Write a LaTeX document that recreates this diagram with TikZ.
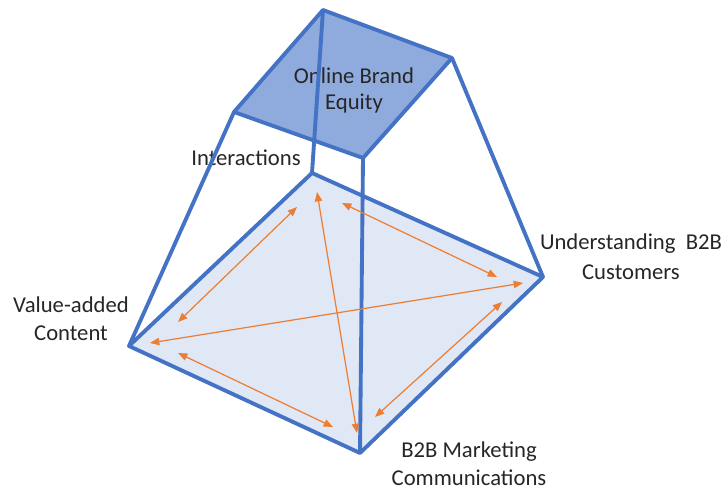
\documentclass[tikz,border=0pt]{standalone}
\usepackage{fontspec}
\setmainfont{Carlito}
\usetikzlibrary{arrows.meta}
\definecolor{edgeblue}{RGB}{68,114,196}
\definecolor{topfill}{RGB}{143,170,220}
\definecolor{basefill}{RGB}{224,231,245}
\definecolor{linkorange}{RGB}{237,125,49}
\tikzset{every picture/.style={line width=0.75pt}}

\begin{document}
\begin{tikzpicture}[x=0.75pt,y=0.75pt,yscale=-1,xscale=1,
  face/.style={draw=edgeblue,line width=2.9pt,line join=round},
  rib/.style={draw=edgeblue,line width=2.9pt},
  link/.style={draw=linkorange,line width=0.9pt,{Triangle[length=7pt,width=5.5pt]}-{Triangle[length=7pt,width=5.5pt]}},
  lbl/.style={inner sep=0.75pt,font=\fontsize{17}{21}\selectfont,align=center,text=black!85}]
\useasboundingbox (0,0) rectangle (725,492);

% top face corners
\coordinate (tT) at (323,10);
\coordinate (tR) at (452,58);
\coordinate (tB) at (363,158);
\coordinate (tL) at (234,112);
% base corners
\coordinate (bT) at (312,173);
\coordinate (bR) at (543,277);
\coordinate (bB) at (360,453);
\coordinate (bL) at (129,346);

%Shape: base
\draw [face,fill=basefill] (bT) -- (bR) -- (bB) -- (bL) -- cycle ;
%Shape: top face
\draw [face,fill=topfill] (tT) -- (tR) -- (tB) -- (tL) -- cycle ;

% Text Node
\node [lbl,font=\fontsize{17}{19.5}\selectfont] (equity) at (354,90) {Online Brand\\Equity};
% Text Node
\node [lbl] (interact) at (246,158) {Interactions};
% Text Node
\node [lbl] (content) at (71,319) {Value-added\\Content};
% Text Node
\node [lbl,font=\fontsize{17}{22.5}\selectfont] (customers) at (631,257) {Understanding~ B2B\\Customers};
% Text Node
\node [lbl] (comms) at (469,464) {B2B Marketing\\Communications};

%Straight Lines: ribs
\draw [rib] (tT) -- (bT) ;
\draw [rib] (tB) -- (bB) ;
\draw [rib] (tL) -- (bL) ;
\draw [rib] (tR) -- (bR) ;

% arrow ends
\coordinate (a1) at (178,322);  \coordinate (a2) at (297,207);
\coordinate (b1) at (317,192);  \coordinate (b2) at (357,433);
\coordinate (c1) at (342,203);  \coordinate (c2) at (497,277);
\coordinate (d1) at (150,343);  \coordinate (d2) at (523,283);
\coordinate (e1) at (502,302);  \coordinate (e2) at (375,417);
\coordinate (f1) at (178,353);  \coordinate (f2) at (333,427);

% Connection
\draw [link] (a1) -- (a2) ;
\draw [link] (b1) -- (b2) ;
\draw [link] (c1) -- (c2) ;
\draw [link] (d1) -- (d2) ;
\draw [link] (e1) -- (e2) ;
\draw [link] (f1) -- (f2) ;

\end{tikzpicture}
\end{document}
